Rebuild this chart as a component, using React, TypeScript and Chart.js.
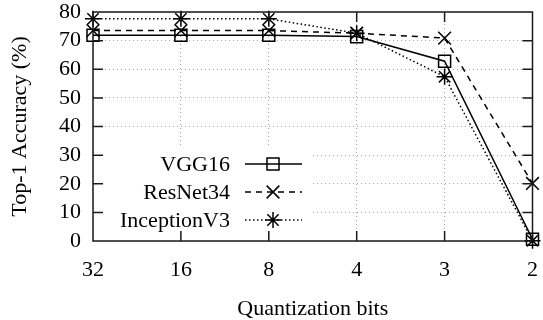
import React, { useEffect, useRef } from "react";
import { Chart, registerables } from "chart.js";

Chart.register(...registerables);

const categories = ["32", "16", "8", "4", "3", "2"];
const vgg16 = [71.9, 71.9, 71.9, 71.4, 62.8, 0.6];
const resnet34 = [73.5, 73.5, 73.5, 72.6, 70.9, 20.1];
const inceptionV3 = [77.6, 77.6, 77.6, 72.6, 57.4, 0.1];
const yTickValues = [0, 10, 20, 30, 40, 50, 60, 70, 80];

const FONT = "'Liberation Serif', 'DejaVu Serif', serif";

function drawMarker(ctx: CanvasRenderingContext2D, style: string, x: number, y: number, r: number) {
  ctx.beginPath();
  if (style === "rect") {
    const s = Math.SQRT1_2 * r;
    ctx.rect(x - s, y - s, 2 * s, 2 * s);
  } else if (style === "crossRot") {
    const s = Math.SQRT1_2 * r;
    ctx.moveTo(x - s, y - s); ctx.lineTo(x + s, y + s);
    ctx.moveTo(x - s, y + s); ctx.lineTo(x + s, y - s);
  } else if (style === "star") {
    const s = Math.SQRT1_2 * r;
    ctx.moveTo(x - s, y - s); ctx.lineTo(x + s, y + s);
    ctx.moveTo(x - s, y + s); ctx.lineTo(x + s, y - s);
    ctx.moveTo(x, y - r); ctx.lineTo(x, y + r);
    ctx.moveTo(x - r, y); ctx.lineTo(x + r, y);
  }
  ctx.stroke();
}

const framePlugin = {
  id: "frame",
  afterDatasetsDraw(chart: any) {
    const ctx = chart.ctx as CanvasRenderingContext2D;
    const { left } = chart.chartArea;
    ctx.save();
    ctx.fillStyle = "#ffffff";
    ctx.fillRect(left + 9, 148, 310 - left - 9, 88);
    const rows = [164, 192, 220];
    ctx.font = `22px ${FONT}`;
    ctx.textAlign = "right";
    ctx.textBaseline = "middle";
    chart.data.datasets.forEach((ds: any, i: number) => {
      const y = rows[i];
      ctx.fillStyle = "#000";
      ctx.fillText(ds.label, 230, y + 1);
      ctx.strokeStyle = "#000";
      ctx.lineWidth = 1.5;
      ctx.setLineDash(ds.borderDash || []);
      ctx.beginPath();
      ctx.moveTo(245, y);
      ctx.lineTo(302, y);
      ctx.stroke();
      ctx.setLineDash([]);
      drawMarker(ctx, ds.pointStyle, 273, y, ds.pointRadius);
    });
    ctx.restore();
  },
  afterDraw(chart: any) {
    const ctx = chart.ctx as CanvasRenderingContext2D;
    const { left, right, top, bottom } = chart.chartArea;
    const xs = chart.scales.x;
    const ys = chart.scales.y;
    ctx.save();
    ctx.strokeStyle = "#1a1a1a";
    ctx.lineWidth = 1.5;
    ctx.setLineDash([]);
    ctx.beginPath();
    ctx.rect(left, top, right - left, bottom - top);
    const tl = 10;
    ys.ticks.forEach((t: any) => {
      const y = ys.getPixelForValue(t.value);
      ctx.moveTo(left, y); ctx.lineTo(left + tl, y);
      ctx.moveTo(right, y); ctx.lineTo(right - tl, y);
    });
    categories.forEach((_c, i) => {
      const x = xs.getPixelForValue(i);
      ctx.moveTo(x, bottom); ctx.lineTo(x, bottom - tl);
      ctx.moveTo(x, top); ctx.lineTo(x, top + tl);
    });
    ctx.stroke();
    ctx.restore();
  },
};

export default function App() {
  const ref = useRef<HTMLCanvasElement | null>(null);
  useEffect(() => {
    document.body.style.margin = "0";
    if (!ref.current) return;
    const common = {
      borderColor: "#000",
      borderWidth: 1.5,
      pointBorderColor: "#000",
      pointBackgroundColor: "rgba(0,0,0,0)",
      pointBorderWidth: 1.5,
      fill: false,
      tension: 0,
      clip: false,
    };
    const chart = new Chart(ref.current, {
      type: "line",
      data: {
        labels: categories,
        datasets: [
          { ...common, label: "VGG16", data: vgg16, pointStyle: "rect", pointRadius: 8.5, borderDash: [] },
          { ...common, label: "ResNet34", data: resnet34, pointStyle: "crossRot", pointRadius: 9, borderDash: [6, 5] },
          { ...common, label: "InceptionV3", data: inceptionV3, pointStyle: "star", pointRadius: 8, borderDash: [1.5, 2.5] },
        ],
      } as any,
      options: {
        animation: false,
        responsive: false,
        devicePixelRatio: 1,
        layout: { padding: { top: 12, right: 6, left: 0, bottom: 0 } },
        plugins: { legend: { display: false }, tooltip: { enabled: false } },
        scales: {
          x: {
            type: "category",
            offset: false,
            grid: { color: "#a8a8a8", lineWidth: 1, drawTicks: false },
            border: { display: false, dash: [1, 3] },
            ticks: { color: "#000", font: { family: FONT, size: 22 }, padding: 16, maxRotation: 0, autoSkip: false },
            title: { display: true, text: "Quantization bits", color: "#000", font: { family: FONT, size: 22, lineHeight: 1 }, padding: { top: 0, bottom: 0 } },
            afterFit: (s: any) => { s.height = 79; s.paddingLeft = 0; s.paddingRight = 0; },
          },
          y: {
            min: 0,
            max: 80,
            grid: { color: "#a8a8a8", lineWidth: 1, drawTicks: false },
            border: { display: false, dash: [1, 3] },
            afterBuildTicks: (s: any) => { s.ticks = yTickValues.map((v) => ({ value: v })); },
            ticks: { color: "#000", font: { family: FONT, size: 22 }, padding: 12, autoSkip: false },
            title: { display: true, text: "Top-1 Accuracy (%)", color: "#000", font: { family: FONT, size: 22, lineHeight: 1 }, padding: { top: 9, bottom: 0 } },
            afterFit: (s: any) => { s.width = 93; s.paddingTop = 0; s.paddingBottom = 0; },
          },
        },
      } as any,
      plugins: [framePlugin],
    });
    return () => chart.destroy();
  }, []);
  return (
    <div style={{ width: 543, height: 320 }}>
      <canvas ref={ref} width={543} height={320} style={{ display: "block" }} />
    </div>
  );
}
